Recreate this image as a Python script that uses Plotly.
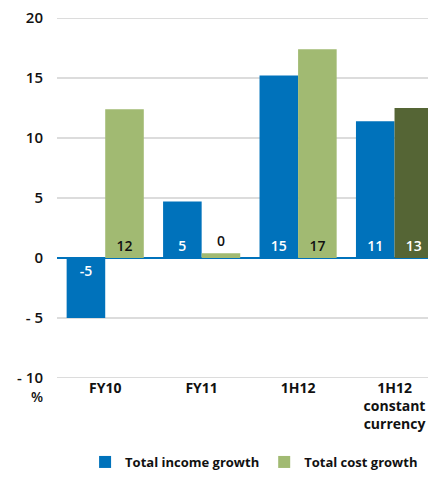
import plotly.graph_objects as go

categories = ["FY10", "FY11", "1H12", "1H12<br>constant<br>currency"]
income = [-5.0, 4.7, 15.2, 11.4]
cost = [12.4, 0.4, 17.4, 12.5]
income_labels = ["-5", "5", "15", "11"]
cost_labels = ["12", "0", "17", "13"]
y_ticks = [-10, -5, 0, 5, 10, 15, 20]
y_ticktext = ["- 10", "- 5", "0", "5", "10", "15", "20"]

BLUE = "#0072BB"
LGREEN = "#A1BA72"
DGREEN = "#556535"
GRID = "#dcdcdc"
FONT = "Open Sans"

fig = go.Figure()
fig.add_trace(go.Bar(
    x=categories, y=income, name="Total income growth",
    marker=dict(color=BLUE, line=dict(width=0)),
    text=income_labels, textposition="inside", insidetextanchor="start",
    textfont=dict(color="white", size=14, family=FONT, weight=600),
    textangle=0,
))
fig.add_trace(go.Bar(
    x=categories, y=cost, name="Total cost growth",
    marker=dict(color=[LGREEN, LGREEN, LGREEN, DGREEN], line=dict(width=0)),
    text=cost_labels, textposition=["inside", "outside", "inside", "inside"],
    insidetextanchor="start",
    textfont=dict(color=["#111111", "#111111", "#111111", "white"], size=14, family=FONT, weight=600),
    textangle=0, cliponaxis=False,
))

# horizontal gridlines at the y tick values (non-zero), drawn beneath the bars
for v in y_ticks:
    if v != 0:
        fig.add_hline(y=v, line=dict(color=GRID, width=2), layer="below")

fig.update_layout(
    width=428, height=469,
    margin=dict(l=49, r=0, t=10, b=98),
    paper_bgcolor="white", plot_bgcolor="white",
    barmode="group", bargap=0.2, bargroupgap=0,
    font=dict(family=FONT, color="#111111"),
    showlegend=True,
    legend=dict(orientation="h", x=0.52, xanchor="center", y=-0.235, yanchor="middle",
                font=dict(size=13, family=FONT, weight=700, color="#111111"),
                itemwidth=30, traceorder="normal"),
    xaxis=dict(type="category", range=[-0.5, 3.43], showline=False, ticks="",
               showgrid=False, automargin=False,
               tickfont=dict(size=14, family=FONT, weight=700, color="#111111")),
    yaxis=dict(range=[-10, 20], tickmode="array", tickvals=y_ticks, ticktext=y_ticktext,
               showgrid=True, gridcolor=GRID, gridwidth=2,
               zeroline=True, zerolinecolor=BLUE, zerolinewidth=1.5,
               showline=False, ticks="outside", ticklen=10, tickcolor="rgba(0,0,0,0)",
               ticklabeloverflow="allow", automargin=False,
               tickfont=dict(size=15, family=FONT, weight=600, color="#111111")),
    annotations=[dict(text="%", xref="paper", yref="paper", x=-12/379, y=-19/361,
                      xanchor="right", yanchor="middle", showarrow=False,
                      font=dict(size=14, family=FONT, weight=600, color="#111111"))],
)

fig.write_html("out.html")
